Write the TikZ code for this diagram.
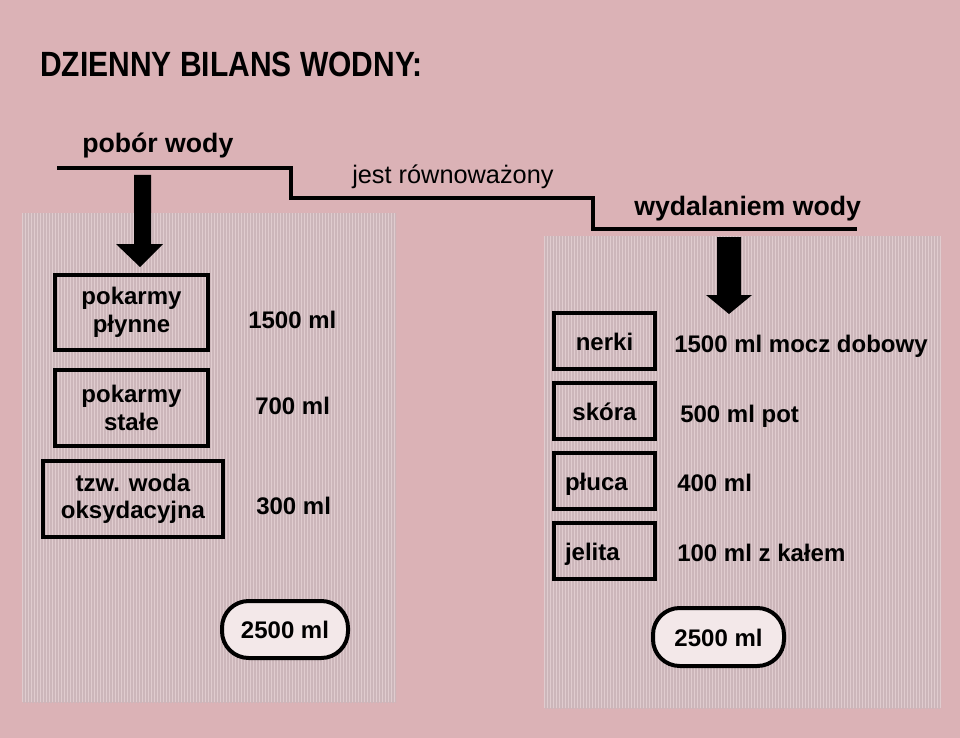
\documentclass[tikz,border=0pt]{standalone}
\usepackage{fontspec}
\setmainfont{Liberation Sans}
\newfontfamily\tytulfont[FakeStretch=0.855]{Liberation Sans}
\usetikzlibrary{patterns.meta}
\definecolor{tlo}{RGB}{219,178,182}
\definecolor{panel}{RGB}{224,204,207}
\definecolor{prazek}{RGB}{204,182,186}
\definecolor{sumafill}{RGB}{243,232,233}

\begin{document}
\begin{tikzpicture}[x=0.75pt, y=-0.75pt,
    tekst/.style={inner sep=0pt, font=\fontsize{18}{20.6}\selectfont\bfseries},
    naglowek/.style={inner sep=0pt, font=\fontsize{20}{24}\selectfont\bfseries},
    ramka/.style={draw, line width=3pt, inner sep=0pt, align=center, font=\fontsize{18}{20.6}\selectfont\bfseries},
    organ/.style={ramka, minimum width=75.75pt, minimum height=42pt, inner xsep=8.25pt, text width=59.25pt, text height=14pt, text depth=0pt},
    wynik/.style={draw, line width=3pt, fill=sumafill, rounded corners=20pt, inner sep=0pt, text height=14pt, text depth=0pt, font=\fontsize{18}{20.6}\selectfont\bfseries},
    pole/.style={preaction={fill=panel}, pattern={Lines[angle=90, distance=2.25pt, line width=0.8pt]}, pattern color=prazek}]
    % Tło
    \fill[tlo] (0,0) rectangle (960,738);
    \useasboundingbox (0,0) rectangle (960,738);
    % Pola z prążkami
    \path[pole] (22,213) rectangle (396,702);
    \path[pole] (544,236) rectangle (941,708);
    % Tytuł
    \node[anchor=base west, inner sep=0pt, font=\tytulfont\bfseries\fontsize{26.3}{30}\selectfont] (tytul) at (40,77) {DZIENNY BILANS WODNY:};
    % Schodkowa linia z napisami
    \draw[line width=3pt] (57,168) -| (291,198) -| (593,229) -- (857,229);
    \node[naglowek, anchor=base west] (pobor) at (82,153) {pobór wody};
    \node[anchor=base west, inner sep=0pt, font=\fontsize{19}{22}\selectfont] (jest) at (352,184) {jest równoważony};
    \node[naglowek, anchor=base west] (wydalanie) at (634,215) {wydalaniem wody};
    % Grube strzałki
    \fill (134,175) -- (151,175) -- (151,244) -- (163,244) -- (140,267) -- (116,244) -- (134,244) -- cycle;
    \fill (717,237) -- (741,237) -- (741,295) -- (752,295) -- (729,314) -- (706,295) -- (717,295) -- cycle;
    % Pobór wody
    \node[ramka, minimum width=114.75pt, minimum height=56.25pt] (plynne) at (131.5,312.5) {pokarmy\\płynne};
    \node[ramka, minimum width=114.75pt, minimum height=57pt] (stale) at (131.5,408) {pokarmy\\stałe};
    \node[ramka, minimum width=135pt, minimum height=57pt] (oksy) at (133,499) {tzw. woda\\oksydacyjna};
    \node[tekst, anchor=base west] (ilePlynne) at (248,328) {1500 ml};
    \node[tekst, anchor=base west] (ileStale) at (255,414) {700 ml};
    \node[tekst, anchor=base west] (ileOksy) at (256,514) {300 ml};
    % Wydalanie wody
    \node[organ] (nerki) at (604.5,341) {nerki};
    \node[organ] (skora) at (604.5,411) {skóra};
    \node[organ, align=left] (pluca) at (604.5,481) {płuca};
    \node[organ, align=left] (jelita) at (604.5,551) {jelita};
    \node[tekst, anchor=base west] (ileNerki) at (674,352) {1500 ml mocz dobowy};
    \node[tekst, anchor=base west] (ileSkora) at (680,422) {500 ml pot};
    \node[tekst, anchor=base west] (ilePluca) at (677,491) {400 ml};
    \node[tekst, anchor=base west] (ileJelita) at (677,561) {100 ml z kałem};
    % Sumy
    \node[wynik, minimum width=94.5pt, minimum height=42.75pt] (sumaPobor) at (285,629.5) {2500 ml};
    \node[wynik, minimum width=98.25pt, minimum height=43.5pt] (sumaWydal) at (718.5,637) {2500 ml};
\end{tikzpicture}
\end{document}
